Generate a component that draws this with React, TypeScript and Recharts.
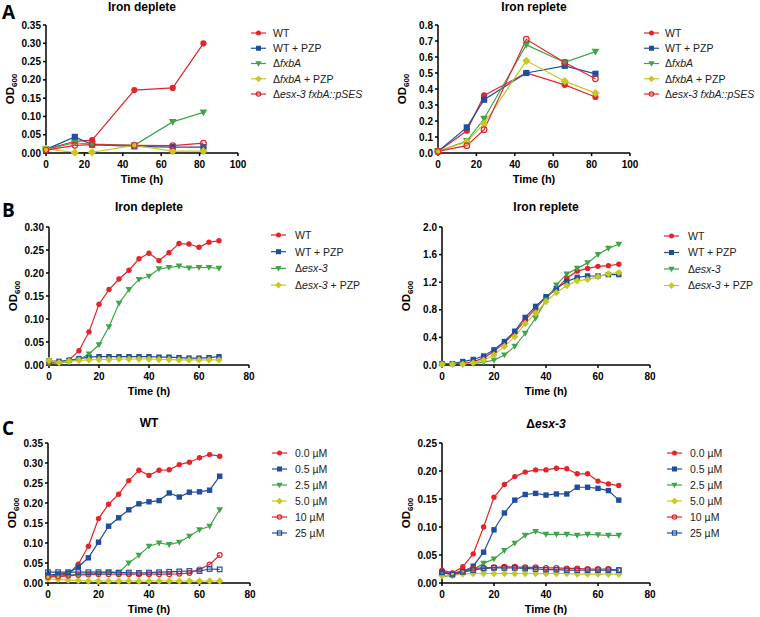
import React from "react";
import { LineChart, Line, XAxis, YAxis } from "recharts";

const FONT = "'Liberation Sans', Arial, Helvetica, sans-serif";
const RED = "#E3242B";
const BLUE = "#1F4E9E";
const GREEN = "#3EA548";
const YELLOW = "#C8C823";

// ---- panel A: sampled at 6 time points
const timesA = [0, 15, 24, 46, 66, 82];
const aDepWT = [0.01, 0.032, 0.035, 0.172, 0.178, 0.3];
const aDepWTPZP = [0.01, 0.044, 0.023, 0.018, 0.016, 0.016];
const aDepFxbA = [0.01, 0.028, 0.024, 0.021, 0.085, 0.111];
const aDepFxbAPZP = [0.012, 0.001, 0.002, 0.021, 0.005, 0.005];
const aDepPSES = [0.008, 0.021, 0.023, 0.021, 0.02, 0.027];

const aRepWT = [0.01, 0.139, 0.36, 0.5, 0.426, 0.35];
const aRepWTPZP = [0.01, 0.16, 0.333, 0.5, 0.545, 0.495];
const aRepFxbA = [0.01, 0.075, 0.214, 0.676, 0.566, 0.634];
const aRepFxbAPZP = [0.01, 0.07, 0.183, 0.576, 0.449, 0.374];
const aRepPSES = [0.01, 0.046, 0.146, 0.711, 0.566, 0.464];

// ---- panels B and C: every 4 h
const timesBC = [0, 4, 8, 12, 16, 20, 24, 28, 32, 36, 40, 44, 48, 52, 56, 60, 64, 68];

const bDepWT = [0.004, 0.006, 0.011, 0.031, 0.072, 0.132, 0.164, 0.187, 0.206, 0.231, 0.243, 0.227, 0.244, 0.264, 0.263, 0.256, 0.267, 0.27];
const bDepWTPZP = [0.009, 0.008, 0.01, 0.014, 0.017, 0.018, 0.018, 0.018, 0.018, 0.018, 0.018, 0.017, 0.017, 0.016, 0.015, 0.015, 0.016, 0.018];
const bDepEsx = [0.004, 0.004, 0.008, 0.012, 0.024, 0.044, 0.083, 0.134, 0.164, 0.186, 0.193, 0.209, 0.212, 0.215, 0.211, 0.212, 0.212, 0.21];
const bDepEsxPZP = [0.01, 0.005, 0.008, 0.01, 0.011, 0.012, 0.012, 0.013, 0.013, 0.013, 0.013, 0.012, 0.012, 0.011, 0.011, 0.011, 0.011, 0.011];

const bRepWT = [0.02, 0.02, 0.02, 0.05, 0.1, 0.2, 0.32, 0.47, 0.65, 0.82, 0.98, 1.1, 1.26, 1.36, 1.4, 1.43, 1.44, 1.46];
const bRepWTPZP = [0.02, 0.02, 0.05, 0.08, 0.13, 0.22, 0.34, 0.49, 0.69, 0.85, 0.99, 1.11, 1.21, 1.27, 1.29, 1.29, 1.31, 1.31];
const bRepEsx = [0.01, 0.01, 0.01, 0.02, 0.04, 0.07, 0.145, 0.27, 0.46, 0.68, 0.94, 1.16, 1.32, 1.4, 1.48, 1.6, 1.69, 1.75];
const bRepEsxPZP = [0.01, 0.01, 0.01, 0.03, 0.07, 0.145, 0.27, 0.41, 0.6, 0.75, 0.92, 1.05, 1.15, 1.22, 1.24, 1.28, 1.32, 1.34];

const cWT00 = [0.017, 0.019, 0.022, 0.047, 0.092, 0.161, 0.197, 0.222, 0.256, 0.282, 0.269, 0.282, 0.283, 0.296, 0.302, 0.313, 0.321, 0.317];
const cWT05 = [0.02, 0.022, 0.025, 0.04, 0.063, 0.102, 0.142, 0.163, 0.183, 0.198, 0.203, 0.206, 0.225, 0.215, 0.227, 0.228, 0.232, 0.267];
const cWT25 = [0.015, 0.017, 0.02, 0.022, 0.023, 0.024, 0.027, 0.026, 0.05, 0.069, 0.092, 0.1, 0.096, 0.102, 0.117, 0.133, 0.142, 0.183];
const cWT50 = [0.01, 0.009, 0.007, 0.006, 0.005, 0.005, 0.005, 0.005, 0.005, 0.005, 0.005, 0.005, 0.005, 0.005, 0.005, 0.005, 0.005, 0.005];
const cWT10 = [0.015, 0.016, 0.018, 0.02, 0.021, 0.022, 0.022, 0.022, 0.022, 0.022, 0.022, 0.022, 0.022, 0.023, 0.025, 0.034, 0.046, 0.07];
const cWT250 = [0.027, 0.027, 0.027, 0.027, 0.027, 0.027, 0.027, 0.026, 0.026, 0.025, 0.026, 0.027, 0.028, 0.029, 0.03, 0.03, 0.035, 0.034];

const cEsx00 = [0.023, 0.018, 0.029, 0.052, 0.1, 0.153, 0.176, 0.19, 0.198, 0.202, 0.202, 0.205, 0.204, 0.195, 0.195, 0.182, 0.177, 0.174];
const cEsx05 = [0.018, 0.016, 0.02, 0.03, 0.055, 0.095, 0.125, 0.148, 0.158, 0.16, 0.157, 0.159, 0.159, 0.171, 0.171, 0.169, 0.165, 0.148];
const cEsx25 = [0.012, 0.013, 0.02, 0.024, 0.035, 0.043, 0.058, 0.071, 0.085, 0.092, 0.087, 0.087, 0.087, 0.085, 0.087, 0.086, 0.085, 0.085];
const cEsx50 = [0.013, 0.014, 0.016, 0.017, 0.017, 0.017, 0.017, 0.017, 0.017, 0.017, 0.017, 0.017, 0.017, 0.016, 0.016, 0.016, 0.016, 0.016];
const cEsx10 = [0.02, 0.017, 0.022, 0.026, 0.027, 0.028, 0.029, 0.029, 0.028, 0.028, 0.027, 0.027, 0.026, 0.026, 0.025, 0.025, 0.025, 0.023];
const cEsx250 = [0.019, 0.015, 0.02, 0.023, 0.026, 0.027, 0.027, 0.027, 0.026, 0.025, 0.024, 0.024, 0.023, 0.023, 0.023, 0.023, 0.023, 0.023];

// tick labels
const xTicks100 = [0, 20, 40, 60, 80, 100];
const xTicks80 = [0, 20, 40, 60, 80];
const yTicks035 = [0, 0.05, 0.1, 0.15, 0.2, 0.25, 0.3, 0.35];
const yTicks08 = [0, 0.1, 0.2, 0.3, 0.4, 0.5, 0.6, 0.7, 0.8];
const yTicks030 = [0, 0.05, 0.1, 0.15, 0.2, 0.25, 0.3];
const yTicks20 = [0, 0.4, 0.8, 1.2, 1.6, 2.0];
const yTicks025 = [0, 0.05, 0.1, 0.15, 0.2, 0.25];

const D = "\u0394";
const labelsA = [
  <>WT</>,
  <>WT + PZP</>,
  <>{D}<tspan fontStyle="italic">fxbA</tspan></>,
  <>{D}<tspan fontStyle="italic">fxbA</tspan> + PZP</>,
  <>{D}<tspan fontStyle="italic">esx-3 fxbA::pSES</tspan></>,
];
const labelsB = [
  <>WT</>,
  <>WT + PZP</>,
  <>{D}<tspan fontStyle="italic">esx-3</tspan></>,
  <>{D}<tspan fontStyle="italic">esx-3</tspan> + PZP</>,
];
const labelsC = ["0.0 \u00b5M", "0.5 \u00b5M", "2.5 \u00b5M", "5.0 \u00b5M", "10 \u00b5M", "25 \u00b5M"];

type Shape = "circle" | "square" | "triangle" | "diamond" | "ocircle" | "osquare";
const shapesA: Shape[] = ["circle", "square", "triangle", "diamond", "ocircle"];
const shapesB: Shape[] = ["circle", "square", "triangle", "diamond"];
const shapesC: Shape[] = ["circle", "square", "triangle", "diamond", "ocircle", "osquare"];
const colorsA = [RED, BLUE, GREEN, YELLOW, RED];
const colorsB = [RED, BLUE, GREEN, YELLOW];
const colorsC = [RED, BLUE, GREEN, YELLOW, RED, BLUE];

function Marker({ shape, cx, cy, color, r }: { shape: Shape; cx: number; cy: number; color: string; r: number }) {
  if (cx == null || cy == null) return null;
  switch (shape) {
    case "circle":
      return <circle cx={cx} cy={cy} r={r} fill={color} />;
    case "square":
      return <rect x={cx - r} y={cy - r} width={2 * r} height={2 * r} fill={color} />;
    case "triangle": {
      const a = r * 1.25;
      return <polygon points={`${cx - a},${cy - a * 0.75} ${cx + a},${cy - a * 0.75} ${cx},${cy + a}`} fill={color} />;
    }
    case "diamond": {
      const a = r * 1.35;
      return <polygon points={`${cx},${cy - a} ${cx + a},${cy} ${cx},${cy + a} ${cx - a},${cy}`} fill={color} />;
    }
    case "ocircle":
      return <circle cx={cx} cy={cy} r={r - 0.3} fill="none" stroke={color} strokeWidth={1.2} />;
    case "osquare":
      return <rect x={cx - r + 0.4} y={cy - r + 0.4} width={2 * r - 0.8} height={2 * r - 0.8} fill="none" stroke={color} strokeWidth={1.2} />;
  }
  return null;
}

type PanelSpec = {
  times: number[];
  series: number[][];
  shapes: Shape[];
  colors: string[];
  x0: number; x1: number; y0: number; y1: number;
  xMax: number; xTicks: number[];
  yMax: number; yTicks: number[]; digits: number;
  r: number;
};

const panels: PanelSpec[] = [
  { times: timesA, series: [aDepWT, aDepWTPZP, aDepFxbA, aDepFxbAPZP, aDepPSES], shapes: shapesA, colors: colorsA,
    x0: 46, x1: 238, y0: 25, y1: 153, xMax: 100, xTicks: xTicks100, yMax: 0.35, yTicks: yTicks035, digits: 2, r: 3.1 },
  { times: timesA, series: [aRepWT, aRepWTPZP, aRepFxbA, aRepFxbAPZP, aRepPSES], shapes: shapesA, colors: colorsA,
    x0: 438, x1: 630, y0: 25, y1: 153, xMax: 100, xTicks: xTicks100, yMax: 0.8, yTicks: yTicks08, digits: 1, r: 3.1 },
  { times: timesBC, series: [bDepWT, bDepWTPZP, bDepEsx, bDepEsxPZP], shapes: shapesB, colors: colorsB,
    x0: 49, x1: 249, y0: 227, y1: 365, xMax: 80, xTicks: xTicks80, yMax: 0.3, yTicks: yTicks030, digits: 2, r: 2.7 },
  { times: timesBC, series: [bRepWT, bRepWTPZP, bRepEsx, bRepEsxPZP], shapes: shapesB, colors: colorsB,
    x0: 442, x1: 650, y0: 227, y1: 365, xMax: 80, xTicks: xTicks80, yMax: 2.0, yTicks: yTicks20, digits: 1, r: 2.7 },
  { times: timesBC, series: [cWT00, cWT05, cWT25, cWT50, cWT10, cWT250], shapes: shapesC, colors: colorsC,
    x0: 48, x1: 250, y0: 443, y1: 583, xMax: 80, xTicks: xTicks80, yMax: 0.35, yTicks: yTicks035, digits: 2, r: 2.7 },
  { times: timesBC, series: [cEsx00, cEsx05, cEsx25, cEsx50, cEsx10, cEsx250], shapes: shapesC, colors: colorsC,
    x0: 442, x1: 650, y0: 443, y1: 583, xMax: 80, xTicks: xTicks80, yMax: 0.25, yTicks: yTicks025, digits: 2, r: 2.7 },
];

const PAD_L = 45;
const PAD_R = 12;
const PAD_T = 8;
const PAD_B = 34;

const tickStyle = { fill: "#000", fontSize: 10, fontWeight: 700, fontFamily: FONT };
const axisStyle = { stroke: "#000", strokeWidth: 1.5 };

function YLabel(props: any) {
  const vb = props.viewBox || { x: 0, y: PAD_T, width: PAD_L, height: 100 };
  const x = vb.x + vb.width - 32;
  const y = vb.y + vb.height / 2;
  return (
    <text transform={`translate(${x},${y}) rotate(-90)`} textAnchor="middle" fontSize={11.5} fontWeight={700} fontFamily={FONT} fill="#000">
      OD<tspan fontSize={8} dy={3}>600</tspan>
    </text>
  );
}

function Panel({ p }: { p: PanelSpec }) {
  const rows = p.times.map((t, i) => {
    const row: Record<string, number> = { t };
    p.series.forEach((s, j) => (row["s" + j] = s[i]));
    return row;
  });
  const w = p.x1 - p.x0 + PAD_L + PAD_R;
  const h = p.y1 - p.y0 + PAD_T + PAD_B;
  return (
    <div style={{ position: "absolute", left: p.x0 - PAD_L, top: p.y0 - PAD_T }}>
      <LineChart width={w} height={h} data={rows} margin={{ top: PAD_T, right: PAD_R, left: 0, bottom: 0 }}>
        <XAxis
          type="number"
          dataKey="t"
          domain={[0, p.xMax]}
          ticks={p.xTicks}
          interval={0}
          height={PAD_B}
          tickSize={3}
          tickMargin={5}
          axisLine={axisStyle}
          tickLine={axisStyle}
          tick={tickStyle}
          label={{ value: "Time (h)", position: "insideBottom", offset: 4, fontSize: 11, fontWeight: 700, fontFamily: FONT, fill: "#000" }}
        />
        <YAxis
          type="number"
          domain={[0, p.yMax]}
          ticks={p.yTicks}
          interval={0}
          width={PAD_L}
          tickSize={3}
          tickMargin={2}
          axisLine={axisStyle}
          tickLine={axisStyle}
          tick={tickStyle}
          tickFormatter={(v: number) => v.toFixed(p.digits)}
          label={{ content: YLabel }}
        />
        {p.series.map((_, j) => (
          <Line
            key={j}
            type="linear"
            dataKey={"s" + j}
            stroke={p.colors[j]}
            strokeWidth={1.2}
            isAnimationActive={false}
            activeDot={false}
            dot={(d: any) => (
              <Marker key={`d${j}-${d.index}`} shape={p.shapes[j]} cx={d.cx} cy={d.cy} color={p.colors[j]} r={p.r} />
            )}
          />
        ))}
      </LineChart>
    </div>
  );
}

type LegendSpec = { x: number; tx: number; y: number; gap: number; labels: React.ReactNode[]; shapes: Shape[]; colors: string[] };
const legends: LegendSpec[] = [
  { x: 251, tx: 273, y: 33, gap: 15.25, labels: labelsA, shapes: shapesA, colors: colorsA },
  { x: 644, tx: 665, y: 33, gap: 15.25, labels: labelsA, shapes: shapesA, colors: colorsA },
  { x: 271, tx: 295, y: 235, gap: 16.7, labels: labelsB, shapes: shapesB, colors: colorsB },
  { x: 664, tx: 688, y: 236, gap: 16.5, labels: labelsB, shapes: shapesB, colors: colorsB },
  { x: 272, tx: 295, y: 453, gap: 16, labels: labelsC, shapes: shapesC, colors: colorsC },
  { x: 667, tx: 690, y: 453, gap: 16, labels: labelsC, shapes: shapesC, colors: colorsC },
];

const titles = [
  { x: 142, y: 11, text: <>Iron deplete</> },
  { x: 534, y: 11, text: <>Iron replete</> },
  { x: 149, y: 211, text: <>Iron deplete</> },
  { x: 546, y: 211, text: <>Iron replete</> },
  { x: 149, y: 427, text: <>WT</> },
  { x: 546, y: 428, text: <>{D}<tspan fontStyle="italic">esx-3</tspan></> },
];

const letters = [
  { x: 2, y: 18.5, t: "A" },
  { x: 2, y: 217, t: "B" },
  { x: 2, y: 435, t: "C" },
];

export default function App() {
  return (
    <div style={{ position: "absolute", left: 0, top: 0, width: 760, height: 617, background: "#fff", overflow: "hidden" }}>
      {panels.map((p, i) => (
        <Panel key={i} p={p} />
      ))}
      <svg width={760} height={617} style={{ position: "absolute", left: 0, top: 0, pointerEvents: "none" }}>
        {letters.map((l) => (
          <text key={l.t} x={l.x} y={l.y} fontSize={19} fontWeight={700} fontFamily="'Open Sans', sans-serif" fill="#000">
            {l.t}
          </text>
        ))}
        {titles.map((t, i) => (
          <text key={i} x={t.x} y={t.y} textAnchor="middle" fontSize={12} fontWeight={700} fontFamily={FONT} fill="#000">
            {t.text}
          </text>
        ))}
        {legends.map((lg, i) => (
          <g key={i}>
            {lg.labels.map((lab, j) => {
              const cy = lg.y + j * lg.gap;
              return (
                <g key={j}>
                  <line x1={lg.x} x2={lg.x + 15} y1={cy} y2={cy} stroke={lg.colors[j]} strokeWidth={1.2} />
                  <Marker shape={lg.shapes[j]} cx={lg.x + 7.5} cy={cy} color={lg.colors[j]} r={2.5} />
                  <text x={lg.tx} y={cy + 3.8} fontSize={10.5} fontFamily={FONT} fill="#222">
                    {lab}
                  </text>
                </g>
              );
            })}
          </g>
        ))}
      </svg>
    </div>
  );
}
